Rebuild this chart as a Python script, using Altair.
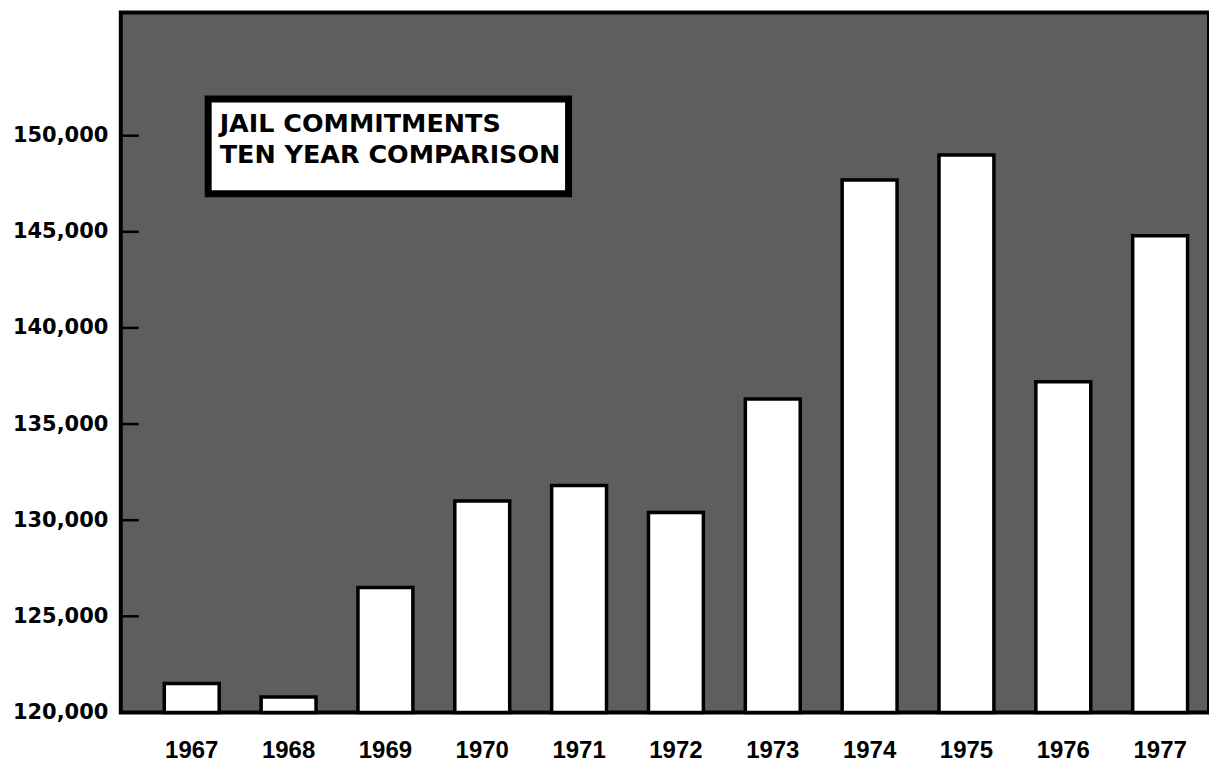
import altair as alt
import pandas as pd

# ---- data ----
years = ["1967", "1968", "1969", "1970", "1971", "1972",
         "1973", "1974", "1975", "1976", "1977"]
commitments = [121500, 120800, 126500, 131000, 131800, 130400,
               136300, 147700, 149000, 137200, 144800]
y_ticks = [120000, 125000, 130000, 135000, 140000, 145000, 150000]
title_line1 = "JAIL COMMITMENTS"
title_line2 = "TEN YEAR COMPARISON"

df = pd.DataFrame({"year": years, "commitments": commitments})
ticks_df = pd.DataFrame({"tick": y_ticks[1:]})
one = pd.DataFrame({"k": [0]})

W, H = 1090, 701

y_scale = alt.Scale(domain=[120000, 156400], zero=False, nice=False)

bars = alt.Chart(df).mark_bar(fill="white", stroke="black", strokeWidth=3.5).encode(
    x=alt.X(
        "year:O",
        sort=years,
        scale=alt.Scale(paddingInner=0.433, paddingOuter=0.335, align=0.67),
        axis=alt.Axis(
            title=None, labelAngle=0, ticks=False, domain=False,
            labelFont="Liberation Sans", labelFontWeight="bold",
            labelFontSize=24, labelColor="black", labelPadding=26,
        ),
    ),
    y=alt.Y(
        "commitments:Q",
        scale=y_scale,
        axis=alt.Axis(
            title=None, values=y_ticks, format=",.0f", grid=False, ticks=False,
            domain=False, labelFont="DejaVu Sans", labelFontWeight="bold",
            labelFontSize=21, labelPadding=13, labelColor="black",
        ),
    ),
    y2=alt.Y2Datum(120000),
)

inner_ticks = alt.Chart(ticks_df).mark_rule(color="black", strokeWidth=2.5).encode(
    y=alt.Y("tick:Q", scale=y_scale),
    x=alt.value(0),
    x2=alt.value(18),
)

box = alt.Chart(one).mark_rect(fill="white", stroke="black", strokeWidth=7).encode(
    x=alt.value(87.5), x2=alt.value(448.5), y=alt.value(86.5), y2=alt.value(181.5)
)

t1 = alt.Chart(one).mark_text(
    align="left", baseline="alphabetic", font="DejaVu Sans",
    fontWeight="bold", fontSize=25.5, color="black",
).encode(x=alt.value(99), y=alt.value(120), text=alt.value(title_line1))

t2 = alt.Chart(one).mark_text(
    align="left", baseline="alphabetic", font="DejaVu Sans",
    fontWeight="bold", fontSize=25.5, color="black",
).encode(x=alt.value(99), y=alt.value(151), text=alt.value(title_line2))

chart = alt.layer(inner_ticks, bars, box, t1, t2).properties(
    width=W, height=H,
    autosize=alt.AutoSizeParams(type="none"),
    padding={"left": 113, "top": 4, "right": 0, "bottom": 50},
).configure(
    background="white"
).configure_view(
    fill="#5e5e5e", stroke="black", strokeWidth=4
)

chart.save("out.html", embed_options={"renderer": "svg", "actions": False})
